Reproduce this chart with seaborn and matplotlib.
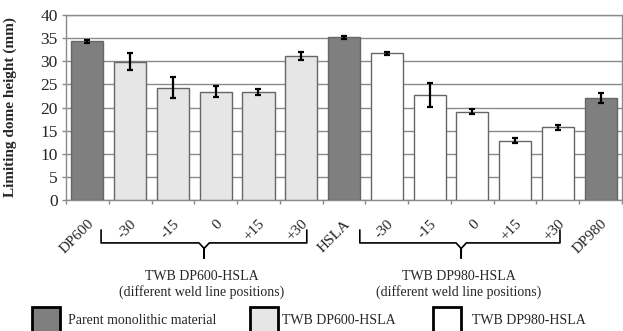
import numpy as np
import pandas as pd
import matplotlib
matplotlib.use("Agg")
import matplotlib.pyplot as plt
import matplotlib.transforms as mtransforms
from matplotlib.patches import Rectangle
import seaborn as sns

# bar data
categories = ["DP600", "-30", "-15", "0", "+15", "+30", "HSLA",
              "-30", "-15", "0", "+15", "+30", "DP980"]
groups = (["Parent monolithic material"] + ["TWB DP600-HSLA"] * 5 +
          ["Parent monolithic material"] + ["TWB DP980-HSLA"] * 5 +
          ["Parent monolithic material"])
heights = [34.3, 29.9, 24.3, 23.4, 23.4, 31.1, 35.2, 31.7, 22.7, 19.1, 12.8, 15.7, 22.1]
errors = [0.4, 1.8, 2.3, 1.2, 0.7, 0.9, 0.3, 0.4, 2.5, 0.6, 0.5, 0.5, 1.1]
group_titles = ["TWB DP600-HSLA\n(different weld line positions)",
                "TWB DP980-HSLA\n(different weld line positions)"]
y_ticks = [0, 5, 10, 15, 20, 25, 30, 35, 40]

palette = {"Parent monolithic material": "#7f7f7f",
           "TWB DP600-HSLA": "#e6e6e6",
           "TWB DP980-HSLA": "#ffffff"}

df = pd.DataFrame({"label": categories, "group": groups,
                   "height": heights, "err": errors})
df["key"] = [f"{i:02d}" for i in range(len(df))]

sns.set_style("white")
plt.rcParams["font.family"] = ["Liberation Serif", "DejaVu Serif"]

fig = plt.figure(figsize=(6.23, 3.31), dpi=100)
ax = fig.add_axes([66 / 623, 1 - 200 / 331, 556 / 623, 185 / 331])

sns.barplot(data=df, x="key", y="height", hue="group", palette=palette,
            dodge=False, width=0.75, edgecolor="#666666", linewidth=1,
            legend=False, ax=ax, zorder=3)
ax.errorbar(np.arange(len(df)), df["height"], yerr=df["err"], fmt="none",
            ecolor="black", elinewidth=1.6, capsize=2.3, capthick=1.6, zorder=5)

ax.set_xlim(-0.5, len(df) - 0.5)
ax.set_ylim(0, 40)
ax.set_yticks(y_ticks)
ax.set_yticklabels([str(t) for t in y_ticks], fontsize=12.5)
ax.yaxis.grid(True, color="#8a8a8a", linewidth=1)
ax.set_axisbelow(True)
for s in ax.spines.values():
    s.set_color("#8a8a8a")
    s.set_linewidth(1)
ax.tick_params(axis="y", length=3, width=1, color="#8a8a8a", pad=3, left=True)

# category labels at centres, tick marks at category boundaries
ax.set_xticks(np.arange(len(df)))
ax.set_xticklabels(df["label"], rotation=45, ha="right", rotation_mode="anchor",
                   fontsize=11)
ax.tick_params(axis="x", which="major", length=0, pad=12.5)
ax.set_xticks(np.arange(-0.5, len(df)), minor=True)
ax.tick_params(axis="x", which="minor", length=3, width=1, color="#8a8a8a",
               bottom=True)
ax.set_xlabel("")
ax.set_ylabel("Limiting dome height (mm)", fontsize=11, fontweight="bold")
ax.yaxis.set_label_coords(-0.088, 0.5)

# braces below the two TWB groups
blend = mtransforms.blended_transform_factory(ax.transData, ax.transAxes)
brace_spans = [(0.32, 5.13, 2.73), (6.37, 11.05, 8.74)]
for (x0, x1, xc), title in zip(brace_spans, group_titles):
    top, mid, tip = -0.162, -0.232, -0.314
    ax.plot([x0, x0, xc - 0.12, xc, xc, xc, xc + 0.12, x1, x1],
            [top, mid, mid, mid - 0.03, tip, mid - 0.03, mid, mid, top],
            color="black", linewidth=1.2, transform=blend, clip_on=False)
    ax.text(xc - 0.05, -0.457, title, transform=blend, ha="center", va="center",
            fontsize=10, linespacing=1.2)

# legend drawn as boxes along the bottom edge
legend_items = [("Parent monolithic material", 32, 68),
                ("TWB DP600-HSLA", 250, 282),
                ("TWB DP980-HSLA", 433, 472)]
for name, px, tx in legend_items:
    fig.add_artist(Rectangle((px / 623, -0.05), 28 / 623, 0.05 + 24 / 331,
                             transform=fig.transFigure, facecolor=palette[name],
                             edgecolor="black", linewidth=2))
    fig.text(tx / 623, 11 / 331, name, ha="left", va="center", fontsize=10)

fig.savefig("out.png", dpi=100)
